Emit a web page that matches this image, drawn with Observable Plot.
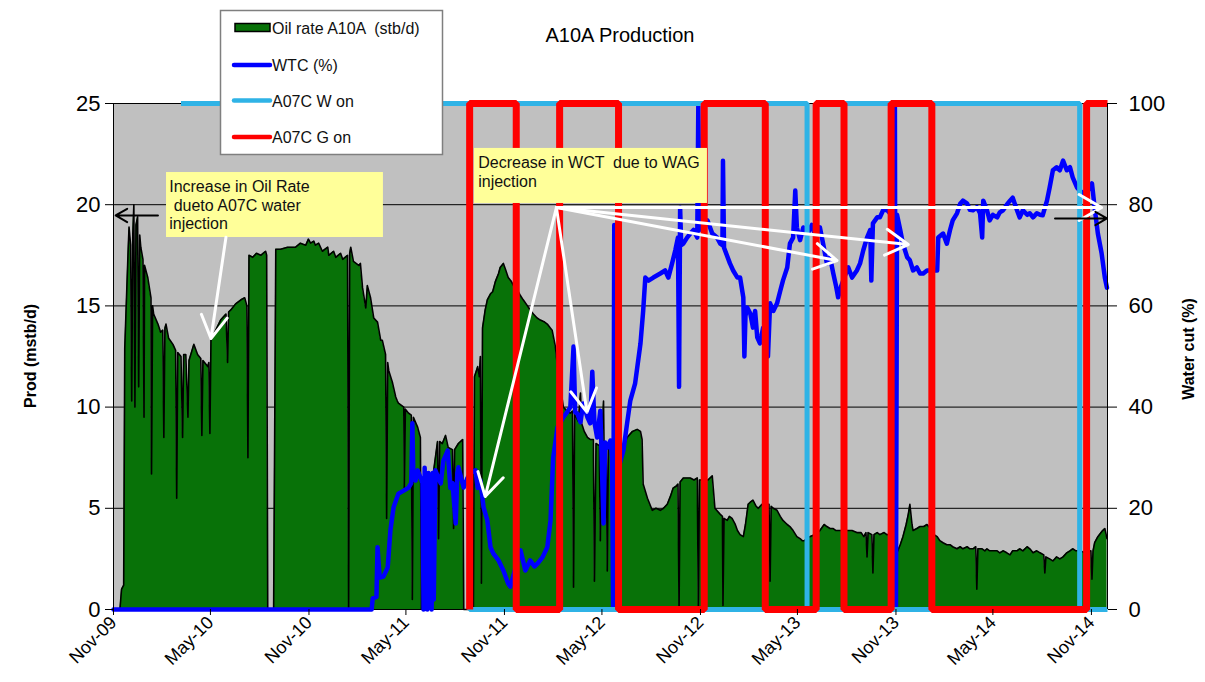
<!DOCTYPE html>
<html>
<head>
<meta charset="utf-8">
<script src="https://cdn.jsdelivr.net/npm/d3@7"></script>
<script src="https://cdn.jsdelivr.net/npm/@observablehq/plot@0.6"></script>
<style>
  html, body { margin: 0; padding: 0; background: #fff; }
  #chart { width: 1205px; height: 682px; }
  #chart svg text { white-space: pre; }
</style>
</head>
<body>
<div id="chart"></div>
<script>
// Production days are counted from 1 Nov 2009.
const startUTC = Date.UTC(2009, 10, 1);
const onDay = d => new Date(startUTC + d * 864e5);

// A10A oil rate: [production day, mstb/d]
const oilRate = [
  [0,0],[12,0],[15,1.0],[19,1.2],[21,12.9],[27,17.5],[29,18.9],[32,18.0],[34,10.3],[36,18.5],[38,20.0],[40,10.0],
  [42,19.0],[45,19.4],[47,11.0],[49,18.5],[51,17.9],[55,17.3],[57,9.5],[58,17.0],[64,16.4],[70,15.4],[71,6.7],[73,15.0],
  [75,14.6],[83,14.1],[88,13.7],[92,13.8],[94,8.5],[96,13.9],[98,14.1],[103,13.4],[111,13.1],[116,12.8],[118,5.5],[120,12.7],
  [126,12.5],[129,8.5],[131,12.6],[135,12.6],[139,9.5],[141,12.3],[150,13.1],[157,12.6],[163,12.4],[165,8.6],[167,12.3],
  [176,12.0],[178,12.2],[180,8.7],[182,13.3],[191,13.8],[200,14.3],[210,14.6],[213,12.2],[215,14.7],[219,14.8],[228,15.1],
  [238,15.3],[245,15.4],[249,15.0],[251,7.5],[253,17.5],[260,17.4],[267,17.6],[275,17.5],[284,17.7],[286,17.5],[288,0],
  [299,0],[303,17.8],[312,17.8],[325,17.9],[340,17.9],[349,18.1],[359,18.0],[364,18.3],[368,18.1],[374,18.2],[377,18.0],
  [383,18.1],[390,17.7],[400,17.9],[402,17.5],[411,17.7],[415,17.4],[424,17.6],[428,17.3],[437,17.5],[439,0],[441,17.6],
  [443,17.9],[448,17.2],[458,17.0],[461,17.1],[465,15.9],[471,14.9],[474,16.0],[480,15.4],[486,14.4],[493,14.2],[499,13.3],
  [502,13.3],[508,12.6],[510,4.5],[512,12.2],[514,11.8],[521,11.2],[527,10.5],[530,10.3],[532,10.2],[542,10.0],[543,6.0],
  [545,9.9],[551,9.7],[556,9.6],[558,0.5],[560,9.5],[568,9.0],[573,8.5],[575,0],[579,6.5],[584,5.8],[590,5.9],[596,6.5],
  [601,7.5],[605,8.3],[607,3.5],[609,8.3],[614,8.2],[620,8.6],[625,8.0],[633,7.9],[635,4.0],[637,7.9],[644,8.2],[652,8.4],
  [654,0],[672,0],[674,11.5],[680,12.0],[683,11.5],[685,12.5],[687,1.3],[689,13.9],[694,14.8],[698,15.3],[704,15.6],
  [708,15.7],[713,16.2],[719,16.6],[722,16.9],[728,17.1],[732,16.8],[737,16.4],[743,16.2],[749,15.9],[754,15.8],[760,15.5],
  [765,15.3],[773,15.0],[778,14.8],[784,14.6],[791,14.4],[797,14.3],[805,14.2],[810,14.1],[816,13.9],[819,13.8],[825,13.0],
  [829,12.0],[840,10.0],[847,9.8],[853,9.7],[857,9.8],[859,1.1],[861,9.7],[864,9.5],[868,9.3],[872,10.7],[874,9.2],
  [879,8.8],[885,8.5],[890,8.4],[896,8.4],[898,1.4],[901,8.2],[907,8.1],[909,3.4],[911,8.0],[915,10.3],[916,8.0],[920,8.0],
  [922,1.9],[924,7.9],[928,8.0],[933,8.0],[952,8.0],[959,8.5],[969,8.8],[978,8.9],[984,8.8],[987,8.4],[989,6.2],[997,5.5],
  [1006,4.9],[1013,5.0],[1021,4.9],[1027,5.0],[1034,5.2],[1040,5.6],[1045,6.0],[1051,6.1],[1054,6.2],[1056,0],[1058,6.3],
  [1064,6.5],[1071,6.5],[1077,6.5],[1084,6.4],[1090,6.5],[1092,0],[1094,6.4],[1110,6.4],[1118,6.6],[1123,5.0],[1133,4.7],
  [1137,4.6],[1138,0.2],[1140,4.5],[1146,4.4],[1150,4.6],[1155,4.5],[1161,4.2],[1165,3.9],[1170,3.7],[1176,3.6],[1180,4.2],
  [1185,5.2],[1189,5.3],[1194,5.4],[1200,5.1],[1204,5.0],[1211,5.2],[1219,5.2],[1224,5.2],[1226,1.4],[1228,5.1],[1232,5.0],
  [1239,4.9],[1245,4.6],[1250,4.4],[1258,4.2],[1263,4.1],[1269,3.9],[1276,3.6],[1282,3.5],[1286,3.4],[1290,3.4],[1300,3.6],
  [1310,3.7],[1319,3.9],[1327,4.2],[1332,4.1],[1338,4.0],[1344,4.0],[1349,3.9],[1357,3.9],[1372,3.9],[1379,3.9],[1388,3.8],
  [1396,3.8],[1401,3.6],[1405,3.8],[1407,2.6],[1409,3.8],[1416,3.7],[1418,1.8],[1420,3.7],[1426,3.8],[1431,3.7],[1439,3.8],
  [1444,3.7],[1452,3.7],[1455,0],[1461,0],[1463,2.8],[1469,3.2],[1474,3.6],[1480,4.2],[1484,4.7],[1487,5.2],[1491,4.2],
  [1493,3.9],[1500,4.0],[1506,4.1],[1513,4.1],[1519,4.2],[1525,4.0],[1532,3.7],[1538,3.6],[1543,3.4],[1549,3.3],[1556,3.2],
  [1562,3.2],[1567,3.1],[1575,3.0],[1581,3.1],[1586,3.0],[1594,3.1],[1599,3.0],[1605,3.0],[1610,3.1],[1612,1.0],[1614,3.0],
  [1622,3.0],[1627,2.9],[1631,3.0],[1636,2.9],[1642,2.9],[1650,2.9],[1655,2.8],[1661,2.9],[1668,2.8],[1674,2.7],[1679,2.9],
  [1687,2.9],[1692,3.0],[1698,2.9],[1706,3.1],[1711,3.0],[1717,2.8],[1724,2.9],[1730,2.8],[1737,2.7],[1739,1.8],[1741,2.6],
  [1748,2.5],[1754,2.4],[1761,2.6],[1767,2.5],[1773,2.6],[1780,2.8],[1786,2.9],[1791,3.0],[1797,2.9],[1804,2.9],[1814,2.8],
  [1825,2.9],[1827,1.5],[1829,2.9],[1832,3.3],[1838,3.6],[1844,3.8],[1847,3.9],[1851,4.0],[1855,3.5]
];

// A10A water cut: [production day, %]
const waterCut = [
  [0,0],[482,0],[484,2.2],[491,2.5],[493,12.3],[497,6.3],[504,6.5],[512,8.3],[517,15.6],[523,20.2],[532,22.9],[542,23.5],
  [551,24.1],[556,25],[558,36.8],[560,26],[564,25.5],[568,27.5],[573,26.1],[577,25],[579,0],[581,28],[583,3],[584,26],
  [586,0],[588,27],[590,5],[592,25],[594,0],[596,27],[598,2],[601,27.5],[611,24.9],[616,29.4],[624,31.4],[629,24],[633,25],
  [639,17.0],[642,27],[644,28.1],[654,24.1],[661,26],[667,27],[676,27.5],[680,24],[685,25.5],[691,20.2],[698,17.6],[704,12.3],
  [709,11.1],[719,9.7],[728,7.7],[737,5.1],[741,4.5],[750,8],[760,11.7],[769,7.7],[778,9.7],[786,8.5],[791,9],[801,10.3],
  [810,12.3],[816,17.6],[821,30],[829,36],[840,38],[847,39],[853,40],[859,52],[862,39],[866,38.7],[872,37],[877,40.7],
  [885,38],[890,36.8],[894,47],[898,37],[903,34],[909,39.3],[915,17],[918,33],[922,32],[928,33.4],[931,30],[933,0],[935,76],
  [937,30],[943,28],[952,31.4],[959,36.8],[965,41.3],[974,44.7],[984,52.6],[989,59],[993,65.6],[999,65],[1008,65.6],
  [1021,66.4],[1030,67],[1036,65.6],[1043,68.4],[1049,71],[1054,73.5],[1056,44],[1058,79.4],[1060,72],[1064,72.3],
  [1071,73.5],[1077,74.3],[1083,75],[1090,73.5],[1092,100],[1094,75],[1101,76],[1109,76.9],[1118,74.3],[1127,73.5],
  [1133,72.3],[1137,72],[1138,88.7],[1140,71.5],[1151,68.4],[1157,67],[1165,65.6],[1170,65.6],[1176,61.7],[1178,50],
  [1180,58],[1183,59.7],[1189,58.5],[1194,55.7],[1198,59],[1202,53.8],[1207,52.6],[1213,55.7],[1220,52.6],[1222,50],
  [1226,60.5],[1232,59],[1239,60.5],[1245,63],[1250,65],[1258,67.6],[1263,72.3],[1269,73.5],[1273,82.8],[1276,75.5],
  [1282,73],[1288,75.5],[1295,74],[1304,76],[1310,74],[1319,75.5],[1325,72.3],[1332,68.4],[1338,69.6],[1344,66.4],
  [1349,64],[1353,61.7],[1359,64],[1366,66],[1372,67.6],[1379,65.6],[1388,67],[1394,68.4],[1400,71],[1407,73.5],[1413,75],
  [1415,65],[1418,76.3],[1426,77.5],[1431,77.5],[1437,78.9],[1444,79],[1452,78],[1457,80],[1459,100],[1461,0],[1463,78],
  [1469,75],[1474,72.3],[1482,69.6],[1487,69],[1493,67],[1500,67.6],[1506,66.4],[1512,66.4],[1519,67],[1528,67],[1538,67],
  [1540,73.5],[1549,74.3],[1556,72.3],[1562,75],[1567,76.9],[1575,78.3],[1581,80.2],[1586,80.8],[1594,80.2],[1599,79],
  [1605,78.9],[1612,79.5],[1618,78.3],[1622,73.5],[1624,80.8],[1631,78.9],[1636,76.9],[1642,78],[1650,77.5],[1655,78.5],
  [1661,78.9],[1668,80],[1674,80.8],[1679,81.4],[1687,78.9],[1692,77.5],[1698,78.9],[1706,78],[1711,78.3],[1717,77.5],
  [1724,78.3],[1730,78],[1735,77.9],[1743,80.8],[1748,83.4],[1754,86.8],[1761,87.4],[1767,86.8],[1773,88.7],[1780,86.8],
  [1786,87.4],[1791,85.4],[1799,83.4],[1804,82.8],[1814,82],[1821,83],[1827,84.2],[1832,79.4],[1838,74.3],[1845,70.4],
  [1851,65.6],[1855,63.6]
];

// A07C injector status (100 = on, 0 = off), plotted on the water-cut axis
const waterInjOn = [
  [126,100],[665,0],[752,100],[833,0],[943,100],[1103,0],[1217,100],[1295,0],[1364,100],[1452,0],[1528,100],[1804,0],[1856,0]
];
const gasInjOn = [
  [665,0],[665,100],[752,0],[833,100],[943,0],[1103,100],[1217,0],[1312,100],[1364,0],[1452,100],[1528,0],[1817,100],[1856,100]
];

const periodEnd = 1856;
const dateTicks = ["2009-11-01","2010-05-01","2010-11-01","2011-05-01","2011-11-01","2012-05-01",
                   "2012-11-01","2013-05-01","2013-11-01","2014-05-01","2014-11-01"];
const prodTicks = [0, 5, 10, 15, 20, 25];
const cutTicks = [0, 20, 40, 60, 80, 100];
const cutToProd = 25 / 100;

// Call-outs: boxes [day from, day to, rate low, rate high], text anchors, arrows [day, rate, day, rate]
const noteBoxes = [[99, 504, 18.38, 21.59], [674, 1109, 20.06, 22.78]];
const noteTexts = [
  [104, 21.26, "Increase in Oil Rate\n dueto A07C water\ninjection"],
  [681, 22.45, "Decrease in WCT  due to WAG\ninjection"]
];
const whiteArrows = [
  [210, 18.39, 182, 13.39],
  [827, 19.86, 694, 5.58],
  [827, 19.86, 884, 9.75],
  [827, 19.86, 1351, 17.24],
  [827, 19.86, 1484, 18.03],
  [827, 19.86, 1845, 19.86]
];
const blackArrows = [[83, 19.47, 4, 19.47], [1758, 19.32, 1855, 19.32]];

const legendLabels = ["Oil rate A10A  (stb/d)", "WTC (%)", "A07C W on", "A07C G on"];

const green = "#087208", blue = "#0000ff", sky = "#2fb3e6", red = "#ff0000";
const font = "'Liberation Sans', Arial, sans-serif";

const svgNode = Plot.plot({
  width: 1205,
  height: 682,
  marginTop: 103,
  marginBottom: 73,
  marginLeft: 113,
  marginRight: 98,
  style: {fontFamily: font, color: "#000", background: "#fff"},
  x: {type: "utc", domain: [onDay(0), onDay(periodEnd)]},
  y: {domain: [0, 25]},
  marks: [
    Plot.frame({fill: "#c0c0c0", stroke: "none"}),
    Plot.ruleY(prodTicks, {stroke: "#000", strokeWidth: 1}),
    Plot.areaY(oilRate, {x: d => onDay(d[0]), y: d => d[1], fill: green}),
    Plot.lineY(oilRate, {x: d => onDay(d[0]), y: d => d[1], stroke: "#000", strokeWidth: 1.6}),
    Plot.lineY(waterCut, {x: d => onDay(d[0]), y: d => d[1] * cutToProd, stroke: blue, strokeWidth: 4.5,
      strokeLinejoin: "round"}),
    Plot.lineY(waterInjOn, {x: d => onDay(d[0]), y: d => d[1] * cutToProd, curve: "step-after",
      stroke: sky, strokeWidth: 5, strokeLinejoin: "miter", strokeLinecap: "butt"}),
    Plot.lineY(gasInjOn, {x: d => onDay(d[0]), y: d => d[1] * cutToProd, curve: "step-after",
      stroke: red, strokeWidth: 7, strokeLinejoin: "miter", strokeLinecap: "butt"}),
    Plot.rect(noteBoxes, {x1: d => onDay(d[0]), x2: d => onDay(d[1]), y1: d => d[2], y2: d => d[3],
      fill: "#ffff99"}),
    Plot.text(noteTexts, {x: d => onDay(d[0]), y: d => d[1], text: d => d[2], textAnchor: "start",
      lineAnchor: "top", lineHeight: 1.15, fontSize: 16, fill: "#111"}),
    Plot.arrow(whiteArrows, {x1: d => onDay(d[0]), y1: d => d[1], x2: d => onDay(d[2]), y2: d => d[3],
      stroke: "#fff", strokeWidth: 3, headLength: 13, bend: false}),
    Plot.arrow(blackArrows, {x1: d => onDay(d[0]), y1: d => d[1], x2: d => onDay(d[2]), y2: d => d[3],
      stroke: "#000", strokeWidth: 2, headLength: 10, bend: false}),
    Plot.ruleX([onDay(0), onDay(periodEnd)], {stroke: "#000", strokeWidth: 1}),
    Plot.axisY(prodTicks, {anchor: "left", tickSize: 8, tickPadding: 5, fontSize: 22, label: null}),
    Plot.axisY(cutTicks.map(v => v * cutToProd), {anchor: "right", tickSize: 9, tickPadding: 12, fontSize: 22,
      tickFormat: v => String(Math.round(v / cutToProd)), label: null}),
    Plot.axisX(dateTicks.map(s => new Date(s)), {tickFormat: d3.utcFormat("%b-%y"), tickRotate: -45,
      tickSize: 6, tickPadding: 4, fontSize: 18, label: null})
  ]
});

document.getElementById("chart").appendChild(svgNode);
const svg = d3.select(svgNode);

// Title
svg.append("text")
  .attr("x", 620).attr("y", 42)
  .attr("text-anchor", "middle")
  .attr("font-family", font).attr("font-size", 20)
  .text("A10A Production");

// Axis titles
svg.append("text")
  .attr("transform", "translate(36,356) rotate(-90)")
  .attr("text-anchor", "middle")
  .attr("font-family", font).attr("font-size", 16).attr("font-weight", "bold")
  .text("Prod (mstb/d)");
svg.append("text")
  .attr("transform", "translate(1194,349) rotate(-90)")
  .attr("text-anchor", "middle")
  .attr("font-family", font).attr("font-size", 16).attr("font-weight", "bold")
  .text("Water cut (%)");

// Legend
const lg = svg.append("g").attr("font-family", font).attr("font-size", 16).attr("text-anchor", "start");
lg.append("rect").attr("x", 220.5).attr("y", 10.5).attr("width", 222).attr("height", 144)
  .attr("fill", "#fff").attr("stroke", "#7f7f7f").attr("stroke-width", 1.5);
const rows = [27.5, 65, 100.5, 137];
lg.append("rect").attr("x", 235).attr("y", 23.5).attr("width", 35).attr("height", 8)
  .attr("fill", green).attr("stroke", "#000").attr("stroke-width", 1.5);
[[blue, rows[1]], [sky, rows[2]], [red, rows[3]]].forEach(([c, y]) => {
  lg.append("line").attr("x1", 234).attr("x2", 270).attr("y1", y).attr("y2", y)
    .attr("stroke", c).attr("stroke-width", 4.5).attr("stroke-linecap", "round");
});
legendLabels.forEach((t, i) => {
  lg.append("text").attr("x", 272).attr("y", rows[i] + 6).attr("text-anchor", "start")
    .attr("fill", "#111").text(t);
});
</script>
</body>
</html>
